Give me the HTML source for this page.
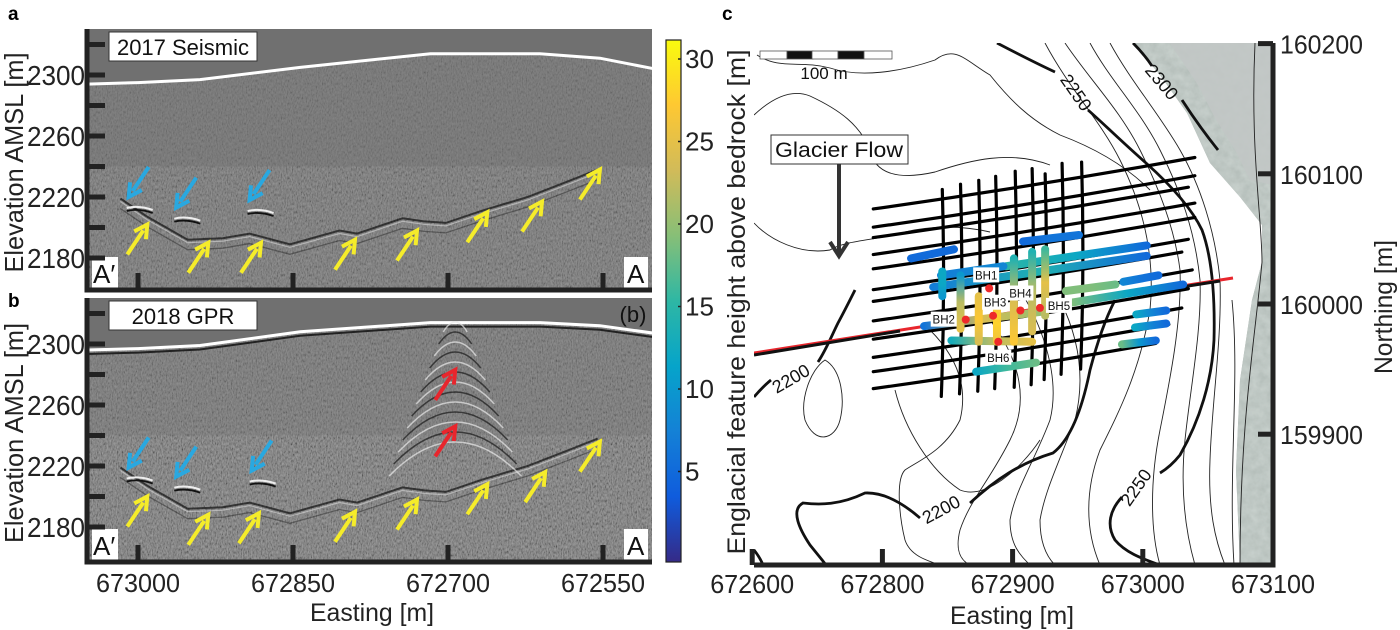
<!DOCTYPE html>
<html><head><meta charset="utf-8">
<style>
html,body{margin:0;padding:0;background:#fff;}
svg{display:block;font-family:"Liberation Sans",Arial,sans-serif;}
</style></head>
<body>
<svg id="fig" width="1400" height="630" viewBox="0 0 1400 630" xmlns="http://www.w3.org/2000/svg">
<defs>
  <filter id="noise" x="0" y="0" width="100%" height="100%">
    <feTurbulence type="fractalNoise" baseFrequency="0.8 0.35" numOctaves="2" seed="4"/>
    <feColorMatrix type="matrix" values="1 0 0 0 0  1 0 0 0 0  1 0 0 0 0  0 0 0 0 1"/>
    <feComponentTransfer><feFuncR type="linear" slope="1.6" intercept="-0.3"/><feFuncG type="linear" slope="1.6" intercept="-0.3"/><feFuncB type="linear" slope="1.6" intercept="-0.3"/></feComponentTransfer>
  </filter>
  <filter id="aer" x="0" y="0" width="100%" height="100%">
    <feTurbulence type="fractalNoise" baseFrequency="0.12" numOctaves="3" seed="7"/>
    <feColorMatrix type="matrix" values="0.25 0 0 0 0.5  0.25 0 0 0 0.55  0.25 0 0 0 0.53  0 0 0 0 1"/>
  </filter>
  <linearGradient id="cbar" x1="0" y1="1" x2="0" y2="0">
    <stop offset="0" stop-color="#352A87"/><stop offset="0.125" stop-color="#0F5CDD"/>
    <stop offset="0.25" stop-color="#1481D6"/><stop offset="0.375" stop-color="#06A4CA"/>
    <stop offset="0.5" stop-color="#2EB7A4"/><stop offset="0.625" stop-color="#87BF77"/>
    <stop offset="0.75" stop-color="#D1BB59"/><stop offset="0.875" stop-color="#FEC832"/>
    <stop offset="1" stop-color="#F9FB0E"/>
  </linearGradient>
  <clipPath id="clipA"><rect x="87" y="29" width="565" height="261"/></clipPath>
  <clipPath id="clipB"><rect x="87" y="298" width="565" height="264"/></clipPath>
  <clipPath id="clipM"><rect x="754" y="43" width="519" height="522"/></clipPath>
</defs>
<g id="root"></g>
</svg>
<script>
// ---------- DATA ----------
const elevTicks = [2320, 2300, 2280, 2260, 2240, 2220, 2200, 2180];
const elevTickLabels = [2300, 2260, 2220, 2180];
const eastTicks = [673000, 672850, 672700, 672550];
const eastTickLabels = ["673000", "672850", "672700", "672550"];
const surfE = [673052, 673000, 672940, 672843, 672717, 672611, 672553, 672500];
const surfA = [2294, 2295, 2297, 2305, 2314, 2314, 2311, 2304];
const surfB = [2296, 2297, 2299, 2308, 2314, 2314, 2312, 2307];
const bedE = [673017, 672991, 672952, 672918, 672892, 672853, 672805, 672788, 672744, 672723, 672702, 672667, 672623, 672581, 672555];
const bedEl = [2219, 2207, 2192, 2193, 2196, 2189, 2198, 2196, 2206, 2204, 2203, 2211, 2220, 2231, 2238];
const blueAE = [673009, 672963, 672892];
const blueAEl = [2220, 2213, 2218];
const yellowAE = [672991, 672932, 672881, 672790, 672730, 672662, 672609, 672553];
const yellowAEl = [2202, 2190, 2190, 2192, 2198, 2210, 2217, 2238];
const blueBE = [673009, 672963, 672890];
const blueBEl = [2219, 2213, 2217];
const yellowBE = [672991, 672932, 672883, 672790, 672730, 672662, 672606, 672553];
const yellowBEl = [2200, 2188, 2189, 2190, 2198, 2208, 2216, 2236];
const redBE = [672693, 672693];
const redBEl = [2283, 2246];
const cbTicks = [5, 10, 15, 20, 25, 30];
// map
const mapETicks = [672700, 672800, 672900, 673000, 673100];
const mapETickLabels = ["672600", "672800", "672900", "673000", "673100"];
const mapNTicks = [160200, 160100, 160000, 159900];
const hLineN = [160073, 160059, 160051, 160038, 160027, 160011, 160002, 159987, 159973, 159959, 159948, 159935];
const hLineEndE = [673040, 673040, 673035, 673040, 673040, 673035, 673030, 673038, 673035, 673030, 673020, 673010];
const vLineE = [672846, 672860, 672874, 672887, 672902, 672915, 672925, 672938, 672953];
const vLineTop = [160088, 160092, 160095, 160098, 160102, 160104, 160100, 160108, 160109];
const vLineBot = [159929, 159931, 159933, 159935, 159936, 159938, 159942, 159946, 159950];
const segE0 = [672822, 672908, 672895, 672845, 672839, 672941, 672985, 672945, 672832, 672853, 672872, 672995, 672994, 672984, 672846, 672860, 672874, 672888, 672901, 672915, 672925];
const segN0 = [160035, 160048, 160029, 160022, 160013, 160010, 160017, 160001, 159983, 159972, 159948, 159992, 159982, 159969, 160025, 160022, 160006, 159998, 160035, 160040, 160042];
const segE1 = [672855, 672951, 673003, 672893, 673003, 672979, 673012, 673031, 672922, 672915, 672918, 673018, 673018, 673010, 672846, 672860, 672874, 672888, 672901, 672915, 672925];
const segN1 = [160042, 160053, 160045, 160029, 160037, 160015, 160022, 160015, 159994, 159971, 159955, 159995, 159985, 159972, 160006, 159981, 159971, 159971, 159971, 159979, 159991];
const segV0 = [5, 5, 15, 7, 7, 19, 8, 19, 6, 13, 12, 12, 12, 18, 12, 10, 25, 27, 14, 14, 16];
const segVm = [5, 6, 12, 8, 14, 19, 6, 12, 24, 22, 16, 8, 8, 10, 12, 22, 27, 28, 24, 22, 25];
const segV1 = [5, 6, 5, 8, 5, 18, 5, 5, 20, 25, 18, 5, 5, 5, 10, 25, 24, 26, 27, 24, 22];
const bhNames = ["BH1", "BH2", "BH3", "BH4", "BH5", "BH6"];
const bhE = [672882, 672864, 672885, 672906, 672921, 672889];
const bhN = [160012, 159988, 159991, 159995, 159997, 159971];

// ---------- SCALES ----------
const xA = e => 138 + (673000 - e) * (155 / 150);
const yA = v => 75 + (2300 - v) * 1.525;
const yB = v => 344 + (2300 - v) * 1.525;
const yCb = v => 59 + (30 - v) * 16.5;
const xM = e => 1273 - (673100 - e) * 1.302;
const yM = n => 304 - (n - 160000) * 1.302;
const NS = "http://www.w3.org/2000/svg";
const root = document.getElementById('root');
function mk(tag, attrs, parent) {
  const el = document.createElementNS(NS, tag);
  for (const k in attrs) el.setAttribute(k, attrs[k]);
  (parent || root).appendChild(el);
  return el;
}
function txt(s, attrs, parent) { const t = mk('text', attrs, parent); t.textContent = s; return t; }
const stops = ["#352A87","#0F5CDD","#1481D6","#06A4CA","#2EB7A4","#87BF77","#D1BB59","#FEC832","#F9FB0E"];
function hex(h){return [parseInt(h.substr(1,2),16),parseInt(h.substr(3,2),16),parseInt(h.substr(5,2),16)];}
function cmap(v){let t=Math.max(0,Math.min(1,(v+0.5)/31.7))*8;let i=Math.min(7,Math.floor(t));let f=t-i;const a=hex(stops[i]),b=hex(stops[i+1]);return 'rgb('+a.map((c,k)=>Math.round(c+(b[k]-c)*f)).join(',')+')';}

// ---------- PANEL LETTERS ----------
let t;
t = txt('a', {x: 8, y: 20, 'font-size': 19, 'font-weight': 'bold'});


t = txt('b', {x: 8, y: 307, 'font-size': 19, 'font-weight': 'bold'});


t = txt('c', {x: 722, y: 20, 'font-size': 19, 'font-weight': 'bold'});



// ---------- SECTION PANELS ----------
function section(panel, y0, y1, ys, surf, clip, title) {
  const g = mk('g', {'clip-path': 'url(#' + clip + ')'});
  
  
  mk('rect', {x: 87, y: y0, width: 565, height: y1 - y0, fill: '#707070'}, g);
  let d = 'M87,' + y1 + ' ';
  surfE.forEach((e, i) => d += 'L' + xA(e).toFixed(1) + ',' + ys(surf[i]).toFixed(1) + ' ');
  d += 'L652,' + y1 + ' Z';
  const cp = mk('clipPath', {id: 'sub' + panel}, g);
  mk('path', {d: d}, cp);
  const n = mk('rect', {x: 87, y: y0, width: 565, height: y1 - y0, filter: 'url(#noise)', opacity: panel === 'a' ? 0.14 : 0.22, 'clip-path': 'url(#sub' + panel + ')'}, g);
  
  
  const low = mk('rect', {x: 87, y: ys(2240), width: 565, height: y1 - ys(2240), filter: 'url(#noise)', opacity: 0.12}, g);
  
  
  let sd = '';
  surfE.forEach((e, i) => sd += (i ? 'L' : 'M') + xA(e).toFixed(1) + ',' + ys(surf[i]).toFixed(1));
  if (panel === 'b') { const s2 = mk('path', {d: sd, fill: 'none', stroke: '#222', 'stroke-width': 2, transform: 'translate(0,4)'}, g);   }
  const s = mk('path', {d: sd, fill: 'none', stroke: '#fff', 'stroke-width': 3}, g);
  
  
  let bd = '';
  bedE.forEach((e, i) => bd += (i ? 'L' : 'M') + xA(e).toFixed(1) + ',' + ys(bedEl[i]).toFixed(1));
  const b1 = mk('path', {d: bd, fill: 'none', stroke: '#111', 'stroke-width': 2, opacity: 0.7}, g);
  
  
  const b2 = mk('path', {d: bd, fill: 'none', stroke: '#ddd', 'stroke-width': 1.2, opacity: 0.55, transform: 'translate(0,3)'}, g);
  
  
  const b3 = mk('path', {d: bd, fill: 'none', stroke: '#222', 'stroke-width': 1.3, opacity: 0.45, transform: 'translate(0,10)'}, g);
  
  
  const bl = panel === 'a' ? [blueAE, blueAEl] : [blueBE, blueBEl];
  bl[0].forEach((e, i) => {
    const x = xA(e) + 8, y = ys(bl[1][i]) + 11;
    const r = mk('path', {d: 'M' + (x - 10) + ',' + y + ' q12,-3 26,2', fill: 'none', stroke: '#eee', 'stroke-width': 2}, g);
    
    
    const r2 = mk('path', {d: 'M' + (x - 10) + ',' + (y + 3) + ' q12,-3 26,2', fill: 'none', stroke: '#111', 'stroke-width': 1.8}, g);
    
    
  });
  if (panel === 'b') {
    const cx = xA(redBE[0]);
    for (let k = 0; k < 13; k++) {
      const ay = 322 + k * 10, w = 12 + k * 4.5, h = 10 + k * 2;
      const hp = mk('path', {d: 'M' + (cx - w) + ',' + (ay + h) + ' Q' + cx + ',' + (ay - h) + ' ' + (cx + w) + ',' + (ay + h), fill: 'none', stroke: k % 2 ? '#1a1a1a' : '#e8e8e8', 'stroke-width': 1.5, opacity: 0.7}, g);
      
      
    }
  }
  const tb = mk('rect', {x: 109, y: y0 + 3, width: 148, height: 29, fill: '#fff', stroke: '#333', 'stroke-width': 1});
  
  
  const tt = txt(title, {x: 183, y: y0 + 26, 'font-size': 22, 'text-anchor': 'middle', fill: '#111'});
  
  
  const ab = mk('rect', {x: 92, y: y1 - 33, width: 26, height: 31, fill: '#fff'});
  
  
  const at = txt('A′', {x: 93, y: y1 - 7, 'font-size': 26, fill: '#111'});
  
  
  const ab2 = mk('rect', {x: 624, y: y1 - 33, width: 24, height: 31, fill: '#fff'});
  
  
  const at2 = txt('A', {x: 627, y: y1 - 7, 'font-size': 26, fill: '#111'});
  
  
  const ax = mk('path', {d: 'M87,' + y0 + ' V' + y1 + ' H652', fill: 'none', stroke: '#222', 'stroke-width': 5});
  
  
  elevTicks.forEach(v => {
    const tk = mk('line', {x1: 87, x2: 105, y1: ys(v), y2: ys(v), stroke: '#222', 'stroke-width': 5});
    
    
  });
  elevTickLabels.forEach(v => {
    const l = txt(String(v), {x: 85, y: ys(v) + 10, 'font-size': 28, 'text-anchor': 'end', textLength: 58, lengthAdjust: 'spacingAndGlyphs', fill: '#222'});
    
    
  });
  eastTicks.forEach(e => {
    const tk = mk('line', {x1: xA(e), x2: xA(e), y1: y1, y2: y1 - 17, stroke: '#222', 'stroke-width': 5});
    
    
  });
  const yl = txt('Elevation AMSL [m]', {x: 0, y: 0, 'font-size': 26, 'text-anchor': 'middle', transform: 'translate(23,' + ((y0 + y1) / 2 + 3) + ') rotate(-90)', textLength: 220, lengthAdjust: 'spacingAndGlyphs', fill: '#222'});
  
  
}
section('a', 29, 290, yA, surfA, 'clipA', '2017 Seismic');
section('b', 298, 562, yB, surfB, 'clipB', '2018 GPR');
t = txt('(b)', {x: 633, y: 322, 'font-size': 22, 'text-anchor': 'middle', fill: '#111'});



eastTicks.forEach((e, i) => {
  const l = txt(eastTickLabels[i], {x: xA(e), y: 592, 'font-size': 26, 'text-anchor': 'middle', textLength: 84, lengthAdjust: 'spacingAndGlyphs', fill: '#222'});
  
  
});
t = txt('Easting [m]', {x: 372, y: 621, 'font-size': 25, 'text-anchor': 'middle', textLength: 124, lengthAdjust: 'spacingAndGlyphs', fill: '#222'});



function arrow(x, y, dir, color, name) {
  const dx = 20 * dir, dy = -30 * dir;
  const x0 = x - dx, y0 = y - dy;
  const g = mk('g', {});
  
  
  mk('line', {x1: x0, y1: y0, x2: x - dx * 0.2, y2: y - dy * 0.2, stroke: color, 'stroke-width': 4}, g);
  const L = Math.hypot(dx, dy), ux = dx / L, uy = dy / L, px = -uy, py = ux;
  const hx = x - ux * 13, hy = y - uy * 13;
  mk('path', {d: 'M' + (hx + px * 7) + ',' + (hy + py * 7) + ' L' + x + ',' + y + ' L' + (hx - px * 7) + ',' + (hy - py * 7), fill: 'none', stroke: color, 'stroke-width': 4}, g);
}
blueAE.forEach((e, i) => arrow(xA(e), yA(blueAEl[i]), -1, '#29a8e0', 'blue-arrow-a'));
yellowAE.forEach((e, i) => arrow(xA(e), yA(yellowAEl[i]), 1, '#f5ec2a', 'yellow-arrow-a'));
blueBE.forEach((e, i) => arrow(xA(e), yB(blueBEl[i]), -1, '#29a8e0', 'blue-arrow-b'));
yellowBE.forEach((e, i) => arrow(xA(e), yB(yellowBEl[i]), 1, '#f5ec2a', 'yellow-arrow-b'));
redBE.forEach((e, i) => arrow(xA(e), yB(redBEl[i]), 1, '#e8262d', 'red-arrow-b'));

// ---------- COLORBAR ----------
t = mk('rect', {x: 666, y: 40, width: 15, height: 522, fill: 'url(#cbar)', stroke: '#222', 'stroke-width': 1.2});


cbTicks.forEach(v => {
  const tk = mk('line', {x1: 678, x2: 681, y1: yCb(v), y2: yCb(v), stroke: '#222', 'stroke-width': 1.5});
  
  
  const l = txt(String(v), {x: 685, y: yCb(v) + 9, 'font-size': 26, fill: '#222'});
  
  
});

// ---------- MAP ----------
const mg = mk('g', {'clip-path': 'url(#clipM)'});


const aerD = 'M1133,43 L1273,43 L1273,565 L1240,565 L1236,470 L1240,380 L1252,300 L1262,262 L1262,225 L1240,197 L1210,163 L1187,113 L1160,75 Z';
t = mk('path', {d: aerD, fill: '#97a59d'}, mg);


const cpA = mk('clipPath', {id: 'aerclip'}, mg);
mk('path', {d: aerD}, cpA);
t = mk('rect', {x: 1130, y: 43, width: 145, height: 522, filter: 'url(#aer)', opacity: 0.7, 'clip-path': 'url(#aerclip)'}, mg);


t = mk('path', {d: 'M1170,43 L1273,43 L1273,185 L1250,180 L1235,150 L1215,118 L1198,85 Z', fill: '#c2c7c5', opacity: 0.85}, mg);



const thin = [
  'M757,55 C780,70 800,60 830,68 C860,78 900,72 935,60 C955,45 965,60 990,75 C1010,100 1030,120 1060,135 C1100,150 1130,170 1150,190',
  'M754,115 C770,100 790,88 810,96 C840,110 860,125 870,150 C875,175 900,180 935,172 C970,160 1010,150 1050,165',
  'M754,223 C770,240 800,255 830,250 C845,240 880,240 905,232 C930,226 960,225 990,232',
  'M1065,43 C1090,80 1120,110 1140,150 C1160,190 1175,230 1180,270 C1182,320 1170,380 1160,430 C1150,480 1150,530 1160,565',
  'M1090,43 C1110,80 1140,110 1160,150 C1180,190 1195,230 1200,280 C1202,330 1190,390 1185,440 C1180,490 1185,530 1195,565',
  'M1110,43 C1130,80 1160,115 1180,150 C1200,185 1215,230 1220,280 C1222,340 1212,400 1210,460 C1208,510 1215,540 1225,565',
  'M1045,43 C1070,90 1100,120 1120,160 C1145,210 1155,260 1150,310 C1140,370 1120,410 1100,450 C1085,490 1085,530 1100,565',
  'M1020,290 C1045,330 1060,380 1050,420 C1035,460 1015,490 1010,520 C1010,545 1020,555 1030,565',
  'M990,320 C1020,360 1030,400 1010,440 C990,480 970,500 960,530 C955,550 960,560 970,565',
  'M930,330 C950,350 970,380 960,420 C945,450 920,460 905,470 C895,480 900,520 905,540 C910,555 925,560 940,565',
  'M1060,300 C1080,340 1085,380 1075,420 C1060,460 1045,490 1040,520 C1040,545 1048,558 1055,565',
  'M895,390 C905,430 930,470 960,490 C985,500 1020,470 1040,440',
  'M825,360 C810,370 800,400 805,420 C815,445 835,440 840,420 C845,400 842,370 825,360 Z',
  'M1255,43 C1250,150 1262,220 1262,262 C1255,340 1240,420 1240,565',
  'M1232,300 C1240,380 1228,470 1234,565'
];
thin.forEach(d => { const p = mk('path', {d: d, fill: 'none', stroke: '#222', 'stroke-width': 0.9}, mg);   });
const thick = [
  'M997,43 C1020,55 1040,65 1055,72 M1088,110 C1105,125 1120,140 1146,163 C1165,180 1190,205 1202,230 C1213,260 1215,300 1214,340 C1212,380 1200,420 1180,455 C1172,465 1165,470 1160,473 M1122,497 C1110,510 1106,525 1115,540 C1125,552 1140,558 1160,565',
  'M1133,43 C1140,50 1148,60 1152,66 M1182,100 C1195,120 1210,140 1218,150',
  'M754,397 C760,390 766,384 771,380 M818,362 C826,350 832,335 838,323 C845,310 850,300 855,290',
  'M970,503 C995,480 1020,463 1053,453 C1070,440 1082,410 1090,370 C1098,340 1105,320 1115,300 M920,518 C905,505 885,492 865,493 C840,505 820,505 803,503 C790,510 800,530 810,545 C818,555 824,562 826,565',
  'M754,550 C758,555 761,560 763,565'
];
thick.forEach(d => { const p = mk('path', {d: d, fill: 'none', stroke: '#111', 'stroke-width': 2.8}, mg);   });
[['2250', 1071, 90, 55], ['2300', 1157, 80, 50], ['2200', 794, 378, -30], ['2200', 944, 509, -28], ['2250', 1141, 485, -55]].forEach(c => {
  const l = txt(c[0], {x: 0, y: 0, 'font-size': 18, 'text-anchor': 'middle', transform: 'translate(' + c[1] + ',' + (c[2] + 6) + ') rotate(' + c[3] + ')', fill: '#111'}, mg);
  
  
});

t = mk('line', {x1: 754, y1: 353, x2: 1233, y2: 278, stroke: '#e8262d', 'stroke-width': 3}, mg);


t = mk('line', {x1: 754, y1: 355, x2: 900, y2: 331, stroke: '#111', 'stroke-width': 3}, mg);


t = mk('line', {x1: 1150, y1: 292, x2: 1220, y2: 281, stroke: '#111', 'stroke-width': 3}, mg);



hLineN.forEach((n, i) => {
  const e0 = 672793, e1 = hLineEndE[i];
  const p = mk('path', {d: 'M' + xM(e0) + ',' + yM(n) + ' Q' + xM((e0 + e1) / 2) + ',' + (yM(n + (e1 - e0) * 0.08) + 3) + ' ' + xM(e1) + ',' + yM(n + (e1 - e0) * 0.16), fill: 'none', stroke: '#000', 'stroke-width': 3.2, 'stroke-linecap': 'round'}, mg);
  
  
});
vLineE.forEach((e, i) => {
  const p = mk('path', {d: 'M' + xM(e) + ',' + yM(vLineTop[i]) + ' Q' + (xM(e) + 3) + ',' + ((yM(vLineTop[i]) + yM(vLineBot[i])) / 2) + ' ' + (xM(e) - 1) + ',' + yM(vLineBot[i]), fill: 'none', stroke: '#000', 'stroke-width': 3.2, 'stroke-linecap': 'round'}, mg);
  
  
});
segE0.forEach((e, i) => {
  const gid = 'sg' + i;
  const lg = mk('linearGradient', {id: gid, gradientUnits: 'userSpaceOnUse', x1: xM(e), y1: yM(segN0[i]), x2: xM(segE1[i]), y2: yM(segN1[i])}, mg);
  mk('stop', {offset: 0, 'stop-color': cmap(segV0[i])}, lg);
  mk('stop', {offset: 0.5, 'stop-color': cmap(segVm[i])}, lg);
  mk('stop', {offset: 1, 'stop-color': cmap(segV1[i])}, lg);
  const p = mk('line', {x1: xM(e), y1: yM(segN0[i]), x2: xM(segE1[i]), y2: yM(segN1[i]), stroke: 'url(#' + gid + ')', 'stroke-width': 8, 'stroke-linecap': 'round'}, mg);
  
  
});
const bhOff = [[-3, -13], [-22, 0], [2, -13], [0, -17], [19, -2], [0, 16]];
bhNames.forEach((nm, i) => {
  const cx = xM(bhE[i]), cy = yM(bhN[i]);
  const lx = cx + bhOff[i][0], ly = cy + bhOff[i][1];
  const bx = mk('rect', {x: lx - 13, y: ly - 8, width: 26, height: 15, fill: '#fff'}, mg);
  
  
  const l = txt(nm, {x: lx, y: ly + 4, 'font-size': 11.5, 'text-anchor': 'middle', fill: '#111'}, mg);
  
  
  const c = mk('circle', {cx: cx, cy: cy, r: 4, fill: '#ee2a2a'}, mg);
  
  
});
[[760, '#fff'], [787, '#111'], [812, '#fff'], [838, '#111'], [864, '#fff']].forEach((s, i) => {
  const r = mk('rect', {x: s[0], y: 51, width: i === 0 ? 27 : (i === 4 ? 28 : 26), height: 8, fill: s[1], stroke: '#555', 'stroke-width': 0.8});
  
  
});
t = txt('100 m', {x: 824, y: 79, 'font-size': 17, 'text-anchor': 'middle', fill: '#111'});


t = mk('rect', {x: 771, y: 135, width: 137, height: 29, fill: '#fff', stroke: '#333', 'stroke-width': 1});


t = txt('Glacier Flow', {x: 839, y: 157, 'font-size': 21, 'text-anchor': 'middle', textLength: 128, lengthAdjust: 'spacingAndGlyphs', fill: '#111'});


t = mk('line', {x1: 839, y1: 164, x2: 839, y2: 254, stroke: '#333', 'stroke-width': 4});


t = mk('path', {d: 'M830,242 L839,256 L848,242', fill: 'none', stroke: '#333', 'stroke-width': 4});



t = mk('path', {d: 'M754,565 H1273 V43', fill: 'none', stroke: '#222', 'stroke-width': 5});


mapETicks.forEach((e, i) => {
  const tk = mk('line', {x1: xM(e), x2: xM(e), y1: 565, y2: 549, stroke: '#222', 'stroke-width': 5});
  
  
  const l = txt(mapETickLabels[i], {x: xM(e), y: 593, 'font-size': 26, 'text-anchor': 'middle', textLength: 84, lengthAdjust: 'spacingAndGlyphs', fill: '#222'});
  
  
});
mapNTicks.forEach(n => {
  const tk = mk('line', {x1: 1258, x2: 1273, y1: yM(n), y2: yM(n), stroke: '#222', 'stroke-width': 5});
  
  
  const l = txt(String(n), {x: 1280, y: yM(n) + 10, 'font-size': 26, textLength: 83, lengthAdjust: 'spacingAndGlyphs', fill: '#222'});
  
  
});
t = txt('Easting [m]', {x: 1012, y: 624, 'font-size': 25, 'text-anchor': 'middle', textLength: 124, lengthAdjust: 'spacingAndGlyphs', fill: '#222'});


t = txt('Northing [m]', {x: 0, y: 0, 'font-size': 25, 'text-anchor': 'middle', transform: 'translate(1392,307) rotate(-90)', textLength: 134, lengthAdjust: 'spacingAndGlyphs', fill: '#222'});


t = txt('Englacial feature height above bedrock [m]', {x: 0, y: 0, 'font-size': 25, 'text-anchor': 'middle', transform: 'translate(745,302) rotate(-90)', textLength: 505, lengthAdjust: 'spacingAndGlyphs', fill: '#222'});


</script>
</body></html>
